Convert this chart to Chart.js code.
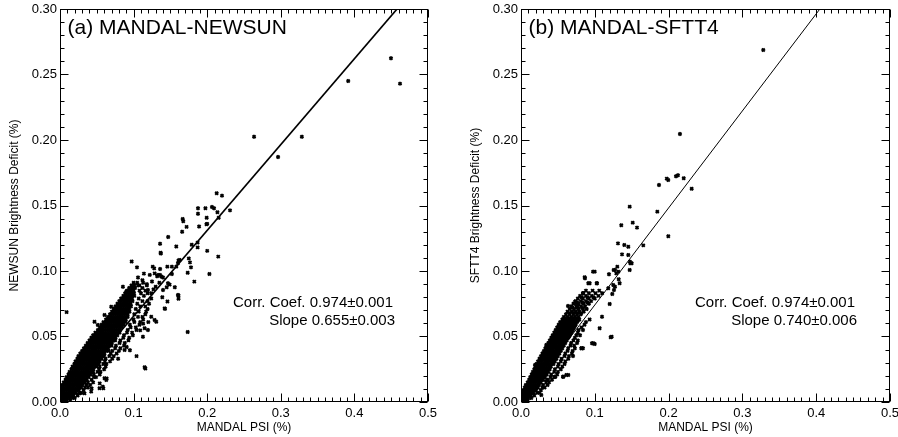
<!DOCTYPE html>
<html><head><meta charset="utf-8">
<script src="https://cdn.jsdelivr.net/npm/chart.js@4.4.1/dist/chart.umd.min.js"></script>
<style>
html,body{margin:0;padding:0;background:#fff;}
#wrap{position:relative;width:898px;height:437px;overflow:hidden;}
.panel{position:absolute;top:0;width:449px;height:437px;}
</style></head><body>
<div id="wrap">
<div class="panel" style="left:0"><canvas id="ca"></canvas></div>
<div class="panel" style="left:449px"><canvas id="cb"></canvas></div>
</div>
<script>
// ---- tick labels ----
const xTicks = [0.0, 0.1, 0.2, 0.3, 0.4, 0.5];
const yTicks = [0.00, 0.05, 0.10, 0.15, 0.20, 0.25, 0.30];

// ---- fit lines (through origin) ----
const fitA = [[0, 0], [0.458, 0.30]];   // slope 0.655
const fitB = [[0, 0], [0.405, 0.30]];   // slope 0.740

// ---- panel (a) dense cluster rows: [NEWSUN deficit, PSI x1, x2, ...] ----
const coreA = [
 [0.001, 0.0005,0.0035,0.0065,0.0095,0.014],
 [0.003, 0.001,0.004,0.007,0.010,0.013,0.017,0.020],
 [0.005, 0.0005,0.0035,0.0065,0.0095,0.0125,0.0155,0.0185,0.024],
 [0.007, 0.001,0.004,0.007,0.010,0.013,0.016,0.019,0.022,0.027,0.029],
 [0.009, 0.0015,0.0045,0.0075,0.0105,0.0135,0.0165,0.0195,0.0225,0.0255,0.032],
 [0.011, 0.003,0.006,0.009,0.012,0.015,0.018,0.021,0.024,0.027,0.029,0.034,0.038],
 [0.013, 0.0035,0.0065,0.0095,0.0125,0.0155,0.0185,0.0215,0.0245,0.0275,0.0305,0.036,0.041],
 [0.015, 0.005,0.008,0.011,0.014,0.017,0.020,0.023,0.026,0.029,0.032,0.034,0.038,0.045],
 [0.017, 0.0075,0.0105,0.0135,0.0165,0.0195,0.0225,0.0255,0.0285,0.0315,0.0345,0.0365,0.043],
 [0.019, 0.009,0.012,0.015,0.018,0.021,0.024,0.027,0.030,0.033,0.036,0.039,0.046,0.049],
 [0.021, 0.0115,0.0145,0.0175,0.0205,0.0235,0.0265,0.0295,0.0325,0.0355,0.0385,0.0415,0.046,0.054],
 [0.023, 0.013,0.016,0.019,0.022,0.025,0.028,0.031,0.034,0.037,0.040,0.043,0.045,0.051,0.055],
 [0.025, 0.0155,0.0185,0.0215,0.0245,0.0275,0.0305,0.0335,0.0365,0.0395,0.0425,0.0455,0.053,0.060],
 [0.027, 0.017,0.020,0.023,0.026,0.029,0.032,0.035,0.038,0.041,0.044,0.047,0.050,0.054,0.062],
 [0.029, 0.0195,0.0225,0.0255,0.0285,0.0315,0.0345,0.0375,0.0405,0.0435,0.0465,0.0495,0.0525,0.059,0.063],
 [0.031, 0.021,0.024,0.027,0.030,0.033,0.036,0.039,0.042,0.045,0.048,0.051,0.054,0.061,0.068],
 [0.033, 0.0235,0.0265,0.0295,0.0325,0.0355,0.0385,0.0415,0.0445,0.0475,0.0505,0.0535,0.0565,0.062,0.071],
 [0.035, 0.025,0.028,0.031,0.034,0.037,0.040,0.043,0.046,0.049,0.052,0.055,0.058,0.060,0.067,0.073],
 [0.037, 0.0275,0.0305,0.0335,0.0365,0.0395,0.0425,0.0455,0.0485,0.0515,0.0545,0.0575,0.0605,0.069,0.077],
 [0.039, 0.030,0.033,0.036,0.039,0.042,0.045,0.048,0.051,0.054,0.057,0.060,0.063,0.066,0.071,0.080],
 [0.041, 0.0325,0.0355,0.0385,0.0415,0.0445,0.0475,0.0505,0.0535,0.0565,0.0595,0.0625,0.0655,0.075,0.082],
 [0.043, 0.035,0.038,0.041,0.044,0.047,0.050,0.053,0.056,0.059,0.062,0.065,0.068,0.070,0.076,0.087],
 [0.045, 0.0375,0.0405,0.0435,0.0465,0.0495,0.0525,0.0555,0.0585,0.0615,0.0645,0.0675,0.0705,0.081,0.088],
 [0.047, 0.040,0.043,0.046,0.049,0.052,0.055,0.058,0.061,0.064,0.067,0.070,0.073,0.075,0.082,0.093],
 [0.049, 0.0425,0.0455,0.0485,0.0515,0.0545,0.0575,0.0605,0.0635,0.0665,0.0695,0.0725,0.0755,0.086,0.094],
 [0.051, 0.045,0.048,0.051,0.054,0.057,0.060,0.063,0.066,0.069,0.072,0.075,0.078,0.087,0.099],
 [0.053, 0.048,0.051,0.054,0.057,0.060,0.063,0.066,0.069,0.072,0.075,0.078,0.081,0.091,0.098],
 [0.055, 0.0515,0.0545,0.0575,0.0605,0.0635,0.0665,0.0695,0.0725,0.0755,0.0785,0.0815,0.092,0.104],
 [0.057, 0.054,0.057,0.060,0.063,0.066,0.069,0.072,0.075,0.078,0.081,0.084,0.096,0.103],
 [0.059, 0.0565,0.0595,0.0625,0.0655,0.0685,0.0715,0.0745,0.0775,0.0805,0.0835,0.0865,0.095,0.108],
 [0.061, 0.059,0.062,0.065,0.068,0.071,0.074,0.077,0.080,0.083,0.086,0.089,0.101,0.109],
 [0.063, 0.0625,0.0655,0.0685,0.0715,0.0745,0.0775,0.0805,0.0835,0.0865,0.0895,0.100,0.113],
 [0.065, 0.065,0.068,0.071,0.074,0.077,0.080,0.083,0.086,0.089,0.092,0.106,0.112],
 [0.067, 0.068,0.071,0.074,0.077,0.080,0.083,0.086,0.089,0.092,0.101,0.116],
 [0.069, 0.0705,0.0735,0.0765,0.0795,0.0825,0.0855,0.0885,0.0915,0.0945,0.107,0.117],
 [0.071, 0.073,0.076,0.079,0.082,0.085,0.088,0.091,0.094,0.103,0.119],
 [0.073, 0.0755,0.0785,0.0815,0.0845,0.0875,0.0905,0.0935,0.0965,0.109,0.116],
 [0.075, 0.078,0.081,0.084,0.087,0.090,0.093,0.096,0.105,0.121],
 [0.077, 0.0805,0.0835,0.0865,0.0895,0.0925,0.0955,0.0985,0.112,0.119],
 [0.079, 0.083,0.086,0.089,0.092,0.095,0.098,0.107,0.124],
 [0.081, 0.086,0.089,0.092,0.095,0.098,0.101,0.114],
 [0.083, 0.0885,0.0915,0.0945,0.0975,0.1005,0.110,0.119],
 [0.085, 0.091,0.094,0.097,0.100,0.108,0.116],
 [0.087, 0.094,0.098,0.102,0.112],
 [0.089, 0.097,0.101,0.106,0.118],
 [0.091, 0.100,0.105,0.113]
];

// ---- panel (a) scattered points: [PSI, NEWSUN deficit] ----
const sparseA = [
 [0.4497,0.2624],[0.462,0.243],[0.3916,0.245],[0.2637,0.2025],[0.3286,0.2025],[0.2963,0.187],
 [0.2129,0.1593],[0.2201,0.1575],[0.1875,0.1479],[0.1875,0.1437],[0.1976,0.1479],[0.2065,0.1489],
 [0.2093,0.1479],[0.1993,0.1407],[0.2139,0.1448],[0.2156,0.1407],[0.231,0.1463],[0.1667,0.1397],
 [0.200,0.136],[0.1675,0.138],[0.172,0.1337],[0.166,0.130],[0.189,0.134],[0.199,0.1357],
 [0.147,0.126],[0.136,0.1208],[0.137,0.1134],[0.158,0.1187],[0.179,0.120],[0.187,0.1217],
 [0.187,0.118],[0.200,0.1154],[0.215,0.111],[0.175,0.1096],[0.1766,0.1066],[0.178,0.1028],
 [0.161,0.108],[0.1735,0.0987],[0.203,0.0977],[0.1825,0.0919],
 [0.128,0.102],[0.136,0.1015],[0.1458,0.1033],[0.152,0.1033],[0.132,0.096],[0.136,0.097],
 [0.140,0.095],[0.152,0.0977],[0.149,0.0896],[0.156,0.0876],[0.145,0.0876],[0.140,0.0855],
 [0.139,0.080],[0.161,0.0813],[0.161,0.0788],
 [0.009,0.0686],[0.1735,0.0534],[0.116,0.0256],[0.104,0.035],[0.1427,0.0711],[0.146,0.0767],
 [0.113,0.0598],[0.120,0.061],[0.109,0.0547],[0.095,0.0395],[0.0906,0.042],[0.079,0.033],
 [0.0634,0.018],[0.054,0.0142],[0.0589,0.0104],[0.043,0.0104],[0.027,0.0066],[0.0974,0.1073],
 [0.1046,0.1028],[0.1367,0.114],[0.126,0.1033],[0.1286,0.0982],[0.1331,0.0969],[0.1377,0.0957],
 [0.1467,0.0906],[0.1603,0.0817],[0.1422,0.0715],[0.1286,0.0626],[0.124,0.0651],[0.1308,0.0613],
 [0.115,0.0563],[0.1195,0.055],[0.1127,0.0498],[0.115,0.0265],[0.0878,0.0397],[0.0605,0.0181],
 [0.0629,0.0168],[0.0582,0.0117],[0.0537,0.0105],[0.0424,0.0079],[0.0333,0.0066],[0.0696,0.0727],
 [0.0741,0.0715],[0.081,0.0702],[0.0855,0.088],[0.09,0.0842],[0.099,0.0868],[0.0605,0.0664],
 [0.065,0.0613],[0.0469,0.0613],[0.0514,0.0588],[0.1195,0.0855],[0.124,0.083],[0.158,0.1033],
 [0.1603,0.1059],[0.1626,0.1084],[0.118,0.090],[0.125,0.092],[0.130,0.088],[0.112,0.093],
 [0.122,0.097],[0.135,0.091],[0.127,0.086],[0.108,0.089],[0.114,0.098],[0.106,0.095]
];

// ---- panel (b) dense cluster rows: [SFTT4 deficit, PSI x1, x2, ...] ----
const coreB = [
 [0.001, 0.0005,0.0035,0.0065,0.009],
 [0.003, 0.001,0.004,0.007,0.010,0.014],
 [0.005, 0.0015,0.0045,0.0075,0.0105,0.0135,0.018],
 [0.007, 0.002,0.005,0.008,0.011,0.014,0.017,0.022,0.025],
 [0.009, 0.0035,0.0065,0.0095,0.0125,0.0155,0.0185,0.0205,0.027],
 [0.011, 0.005,0.008,0.011,0.014,0.017,0.020,0.023,0.029,0.032],
 [0.013, 0.0065,0.0095,0.0125,0.0155,0.0185,0.0215,0.0245,0.030,0.036],
 [0.015, 0.009,0.012,0.015,0.018,0.021,0.024,0.027,0.034,0.038],
 [0.017, 0.011,0.014,0.017,0.020,0.023,0.026,0.029,0.030,0.035,0.042],
 [0.019, 0.0125,0.0155,0.0185,0.0215,0.0245,0.0275,0.0305,0.0325,0.040,0.045],
 [0.021, 0.0145,0.0175,0.0205,0.0235,0.0265,0.0295,0.0325,0.035,0.041,0.049],
 [0.023, 0.016,0.019,0.022,0.025,0.028,0.031,0.034,0.037,0.045,0.050],
 [0.025, 0.018,0.021,0.024,0.027,0.030,0.033,0.036,0.039,0.046,0.054],
 [0.027, 0.0195,0.0225,0.0255,0.0285,0.0315,0.0345,0.0375,0.0405,0.050,0.056],
 [0.029, 0.021,0.024,0.027,0.030,0.033,0.036,0.039,0.042,0.044,0.051,0.059],
 [0.031, 0.023,0.026,0.029,0.032,0.035,0.038,0.041,0.044,0.046,0.054,0.060],
 [0.033, 0.025,0.028,0.031,0.034,0.037,0.040,0.043,0.046,0.048,0.055,0.064],
 [0.035, 0.027,0.030,0.033,0.036,0.039,0.042,0.045,0.048,0.050,0.059,0.065],
 [0.037, 0.029,0.032,0.035,0.038,0.041,0.044,0.047,0.050,0.052,0.060,0.069],
 [0.039, 0.031,0.034,0.037,0.040,0.043,0.046,0.049,0.052,0.054,0.063,0.070],
 [0.041, 0.033,0.036,0.039,0.042,0.045,0.048,0.051,0.054,0.056,0.064,0.073],
 [0.043, 0.035,0.038,0.041,0.044,0.047,0.050,0.053,0.056,0.058,0.067,0.072],
 [0.045, 0.037,0.040,0.043,0.046,0.049,0.052,0.055,0.058,0.060,0.068,0.076],
 [0.047, 0.039,0.042,0.045,0.048,0.051,0.054,0.057,0.060,0.062,0.071,0.077],
 [0.049, 0.041,0.044,0.047,0.050,0.053,0.056,0.059,0.062,0.064,0.073],
 [0.050, 0.045,0.049,0.053,0.057,0.061,0.065],
 [0.051, 0.043,0.047,0.051,0.055,0.059,0.063,0.066,0.075,0.080],
 [0.052, 0.047,0.051,0.055,0.059,0.063,0.067],
 [0.053, 0.045,0.049,0.053,0.057,0.061,0.065,0.068,0.077],
 [0.054, 0.049,0.053,0.057,0.061,0.065,0.069],
 [0.055, 0.047,0.051,0.055,0.059,0.063,0.067,0.070,0.078,0.084],
 [0.056, 0.051,0.055,0.059,0.063,0.067,0.071],
 [0.057, 0.049,0.053,0.057,0.061,0.065,0.069,0.072,0.082],
 [0.058, 0.053,0.057,0.061,0.065,0.069,0.073],
 [0.059, 0.051,0.055,0.059,0.063,0.067,0.071,0.074,0.086],
 [0.060, 0.055,0.059,0.064,0.069,0.074],
 [0.061, 0.053,0.057,0.061,0.066,0.071,0.076,0.088],
 [0.062, 0.058,0.063,0.068,0.073,0.077],
 [0.063, 0.056,0.060,0.065,0.070,0.075,0.079,0.093],
 [0.064, 0.061,0.066,0.071,0.076],
 [0.065, 0.058,0.063,0.068,0.073,0.078],
 [0.067, 0.061,0.066,0.071,0.076,0.081],
 [0.068, 0.066,0.072,0.077,0.082],
 [0.069, 0.063,0.069,0.074,0.079,0.085],
 [0.071, 0.066,0.072,0.078,0.084,0.089],
 [0.072, 0.070,0.076,0.083],
 [0.073, 0.068,0.075,0.081,0.087],
 [0.075, 0.071,0.078,0.085,0.092],
 [0.076, 0.076,0.083,0.090],
 [0.077, 0.074,0.081,0.088,0.095],
 [0.079, 0.077,0.084,0.092,0.100],
 [0.080, 0.082,0.090,0.098],
 [0.081, 0.080,0.088,0.096,0.105],
 [0.083, 0.084,0.092,0.101,0.110],
 [0.085, 0.088,0.097,0.106]
];

// ---- panel (b) scattered points: [PSI, SFTT4 deficit] ----
const sparseB = [
 [0.3283,0.2687],[0.2154,0.2046],[0.187,0.1656],[0.1975,0.1705],[0.1995,0.1695],[0.210,0.1723],
 [0.2127,0.1731],[0.2205,0.1708],[0.2313,0.1628],[0.1473,0.1491],[0.1847,0.1453],[0.1359,0.1349],
 [0.1514,0.1369],[0.1572,0.1331],[0.1996,0.1265],[0.1314,0.1211],[0.140,0.1198],[0.1454,0.1185],
 [0.1657,0.1196],[0.1369,0.1127],[0.1305,0.1033],[0.1291,0.0982],[0.1481,0.1059],[0.1473,0.1008],
 [0.1256,0.1008],[0.1324,0.0937],[0.1337,0.0906],[0.1192,0.0975],[0.0999,0.0995],[0.0863,0.0952],
 [0.0931,0.0906],[0.103,0.0906],[0.084,0.083],[0.0745,0.0753],[0.0637,0.0733],[0.1237,0.0824],
 [0.126,0.0855],[0.1202,0.0748],[0.1215,0.0494],[0.1066,0.0563],[0.1098,0.0651],[0.0962,0.0448],
 [0.0999,0.0443],[0.0817,0.041],[0.084,0.041],[0.0705,0.0351],[0.0614,0.0206],[0.0569,0.0193],
 [0.0207,0.0282],[0.0275,0.0053],[0.0366,0.0168],[0.0465,0.0193],[0.0434,0.0498],[0.0343,0.0435],
 [0.0637,0.0537],[0.0867,0.0944],[0.0976,0.0995],[0.0912,0.0906],[0.1026,0.0906],[0.0844,0.083],
 [0.0732,0.0765],[0.0766,0.0728],[0.0641,0.0626],[0.0709,0.0639],[0.1229,0.0498],[0.098,0.0448],
 [0.0822,0.041],[0.0348,0.0422],[0.019,0.0282],[0.046,0.0193],[0.0573,0.0193],[0.0641,0.0206],
 [0.1454,0.1122],[0.1477,0.1071],[0.15,0.1059],[0.1274,0.1008],[0.1319,0.0995],[0.125,0.0893],
 [0.1274,0.088],[0.1183,0.0868]
];

const FONT = '"Liberation Sans", Arial, Helvetica, sans-serif';
Chart.defaults.font.family = FONT;
Chart.defaults.color = '#000';

function toPoints(core, sparse) {
  const pts = [];
  core.forEach(r => { for (let i = 1; i < r.length; i++) pts.push({x: r[i], y: r[0]}); });
  sparse.forEach(p => pts.push({x: p[0], y: p[1]}));
  return pts;
}

const framePlugin = {
  id: 'idlFrame',
  afterDatasetsDraw(chart, args, o) {
    const {ctx, chartArea: a, scales: {x, y}} = chart;
    ctx.save();
    ctx.strokeStyle = '#000';
    ctx.lineWidth = 1;
    const L = Math.round(a.left) + 0.5, R = Math.round(a.right) - 0.5;
    const T = Math.round(a.top) + 0.5, B = Math.round(a.bottom) - 0.5;
    ctx.strokeRect(L, T, R - L, B - T);
    ctx.beginPath();
    for (let i = 0; i <= 50; i++) {
      const px = Math.round(x.getPixelForValue(i / 100)) + 0.5;
      const len = (i % 10 === 0) ? 8 : 4;
      ctx.moveTo(px, B); ctx.lineTo(px, B - len);
      ctx.moveTo(px, T); ctx.lineTo(px, T + len);
    }
    for (let i = 0; i <= 30; i++) {
      const py = Math.round(y.getPixelForValue(i / 100)) + 0.5;
      const len = (i % 5 === 0) ? 8 : 4;
      ctx.moveTo(L, py); ctx.lineTo(L + len, py);
      ctx.moveTo(R, py); ctx.lineTo(R - len, py);
    }
    ctx.stroke();
    ctx.fillStyle = '#000';
    ctx.font = '21px ' + FONT;
    ctx.textAlign = 'left';
    ctx.textBaseline = 'alphabetic';
    ctx.fillText(o.title, a.left + 7.5, a.top + 24.5);
    ctx.font = '15px ' + FONT;
    ctx.textAlign = 'right';
    ctx.textBaseline = 'middle';
    ctx.fillText(o.corr, a.right - 35, a.bottom - 99.5);
    ctx.fillText(o.slope, a.right - 33, a.bottom - 81);
    ctx.restore();
  }
};

function makeChart(id, pts, fit, lineW, yTitle, yWidth, yTitlePad, padRight, texts) {
  new Chart(document.getElementById(id), {
    type: 'scatter',
    data: {
      datasets: [
        {
          data: pts, pointStyle: 'crossRot', pointRadius: 2.1, pointHoverRadius: 2.1,
          borderColor: '#000', backgroundColor: '#000', pointBorderWidth: 2, showLine: false
        },
        {
          data: fit.map(p => ({x: p[0], y: p[1]})), showLine: true, pointRadius: 0,
          borderColor: '#000', borderWidth: lineW, fill: false
        }
      ]
    },
    options: {
      responsive: true, maintainAspectRatio: false, animation: false,
      events: [],
      layout: {padding: {left: 0, top: 9, right: padRight, bottom: 0}},
      plugins: {legend: {display: false}, tooltip: {enabled: false}, idlFrame: texts},
      scales: {
        x: {
          type: 'linear', min: 0, max: 0.5,
          afterBuildTicks: s => { s.ticks = xTicks.map(v => ({value: v})); },
          ticks: {callback: v => v.toFixed(1), font: {size: 13}, color: '#000', padding: 4, maxRotation: 0, autoSkip: false},
          grid: {display: false, drawTicks: false}, border: {display: false},
          title: {display: true, text: 'MANDAL PSI (%)', font: {size: 12}, color: '#000', padding: {top: 0, bottom: 2}},
          afterFit: s => { s.height = 35; s.paddingLeft = 0; s.paddingRight = 0; }
        },
        y: {
          type: 'linear', min: 0, max: 0.3,
          afterBuildTicks: s => { s.ticks = yTicks.map(v => ({value: v})); },
          ticks: {callback: v => v.toFixed(2), font: {size: 13}, color: '#000', padding: 3, autoSkip: false},
          grid: {display: false, drawTicks: false}, border: {display: false},
          title: {display: true, text: yTitle, font: {size: 12}, color: '#000', padding: {top: yTitlePad, bottom: 0}},
          afterFit: s => { s.width = yWidth; s.paddingTop = 0; s.paddingBottom = 0; }
        }
      }
    },
    plugins: [framePlugin]
  });
}

makeChart('ca', toPoints(coreA, sparseA), fitA, 1.7, 'NEWSUN Brightness Deficit (%)', 60, 7.8, 21,
  {title: '(a) MANDAL-NEWSUN', corr: 'Corr. Coef. 0.974\u00b10.001', slope: 'Slope 0.655\u00b10.003'});
makeChart('cb', toPoints(coreB, sparseB), fitB, 1.0, 'SFTT4 Brightness Deficit (%)', 72, 19.3, 8,
  {title: '(b) MANDAL-SFTT4', corr: 'Corr. Coef. 0.974\u00b10.001', slope: 'Slope 0.740\u00b10.006'});
</script>
</body></html>
